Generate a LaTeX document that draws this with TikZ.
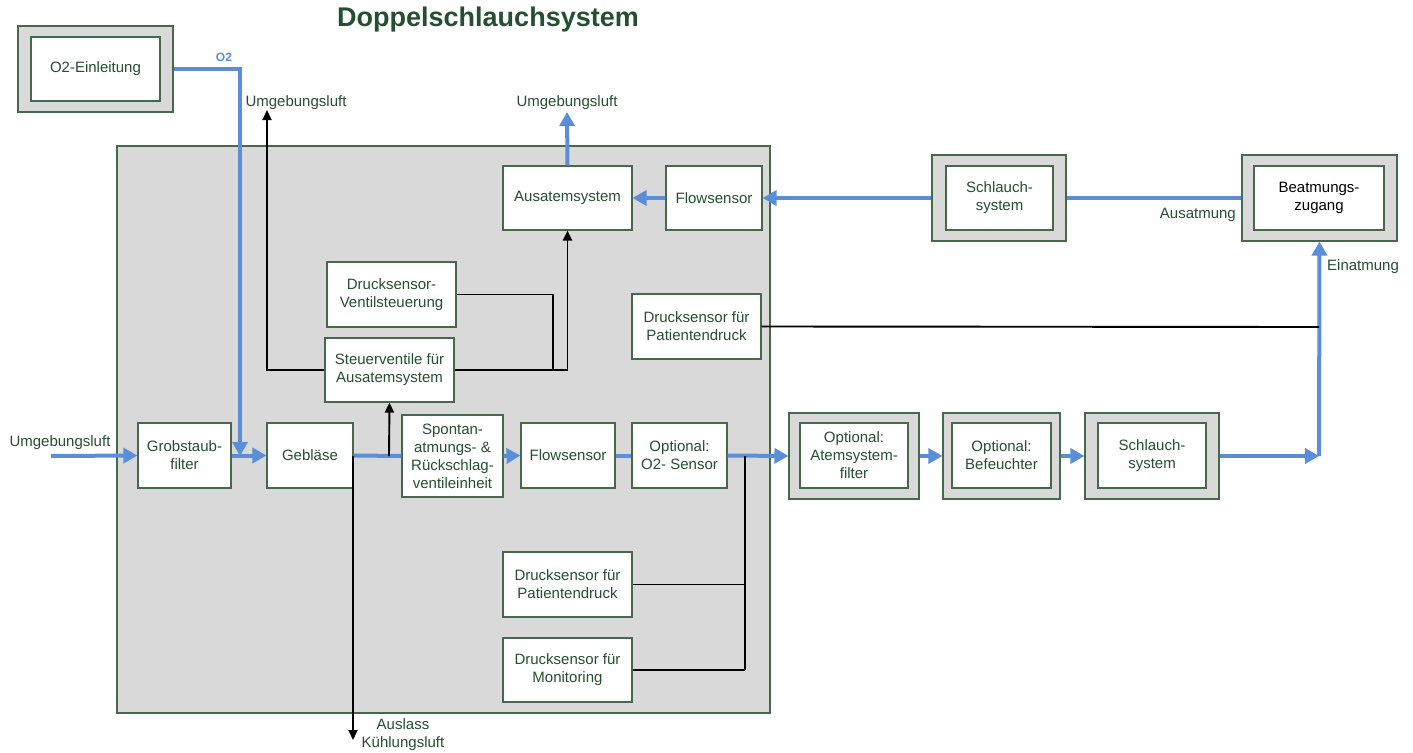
\documentclass[tikz,border=0pt]{standalone}
\usepackage{fontspec}
\setmainfont{Liberation Sans}
\usetikzlibrary{arrows.meta}
\definecolor{txtc}{HTML}{244F31}
\definecolor{boxc}{HTML}{46694D}
\definecolor{grayc}{HTML}{D9D9D9}
\definecolor{bluec}{HTML}{5A8ED8}
\tikzset{
  inbox/.style={draw=boxc, line width=1.1pt, fill=white, align=center, text=txtc, inner sep=0pt,
    font=\fontsize{15}{18}\selectfont},
  outbox/.style={draw=boxc, line width=1.1pt, fill=grayc, inner sep=0pt},
  lbl/.style={text=txtc, inner sep=0pt, font=\fontsize{15}{18}\selectfont},
  blueline/.style={draw=bluec, line width=4pt},
  bluearrow/.style={draw=bluec, line width=4pt, -{Triangle[length=14pt,width=15pt]}},
  blkline/.style={draw=black, line width=1.9pt},
  blkarrow/.style={draw=black, line width=1.9pt, -{Triangle[length=10pt,width=9pt]}},
}
\begin{document}
\begin{tikzpicture}[x=1pt,y=-1pt]
\useasboundingbox (0,0) rectangle (1413,752);
% title
\node[text=txtc, font=\fontsize{27}{30}\bfseries\selectfont, inner sep=0pt] (title) at (488,20) {Doppelschlauchsystem};
% main gray box
\node[outbox, minimum width=653pt, minimum height=567pt] (main) at (443.5,429.5) {};
% O2-Einleitung
\node[outbox, minimum width=155pt, minimum height=86pt] (o2out) at (95.5,69) {};
\node[inbox, minimum width=129pt, minimum height=64pt] (o2) at (95.5,69) {O2-Einleitung};
% top row
\node[inbox, minimum width=129pt, minimum height=64pt] (aus) at (567.5,198) {Ausatemsystem};
\node[inbox, minimum width=96pt, minimum height=64pt] (flowtop) at (714,198) {Flowsensor};
\node[outbox, minimum width=134pt, minimum height=86pt] (schl1out) at (999,198) {};
\node[inbox, minimum width=107pt, minimum height=64pt] (schl1) at (999.5,198) {Schlauch-\\system};
\node[outbox, minimum width=155pt, minimum height=86pt] (beatout) at (1319.5,198) {};
\node[inbox, minimum width=130pt, minimum height=64pt, text=black] (beat) at (1319,198) {Beatmungs-\\zugang};
% middle
\node[inbox, minimum width=129pt, minimum height=65pt] (dsv) at (391.5,294.5) {Drucksensor-\\Ventilsteuerung};
\node[inbox, minimum width=129pt, minimum height=64pt] (stv) at (389.5,370) {Steuerventile für\\Ausatemsystem};
\node[inbox, minimum width=129pt, minimum height=65pt] (dpr) at (696.5,326.5) {Drucksensor für\\Patientendruck};
% main row
\node[inbox, minimum width=93pt, minimum height=65pt] (grob) at (184.5,455.5) {Grobstaub-\\filter};
\node[inbox, minimum width=86pt, minimum height=65pt] (geb) at (310,455.5) {Gebläse};
\node[inbox, minimum width=101pt, minimum height=82pt] (spon) at (452.5,456) {Spontan-\\atmungs- \&\\Rückschlag-\\ventileinheit};
\node[inbox, minimum width=94pt, minimum height=65pt] (flow2) at (568,455.5) {Flowsensor};
\node[inbox, minimum width=95pt, minimum height=65pt] (o2s) at (679.5,455.5) {Optional:\\O2- Sensor};
\node[outbox, minimum width=130pt, minimum height=86pt] (atfout) at (854,456) {};
\node[inbox, minimum width=108pt, minimum height=65pt] (atf) at (854,455.5) {Optional:\\Atemsystem-\\filter};
\node[outbox, minimum width=117pt, minimum height=86pt] (befout) at (1001.5,456) {};
\node[inbox, minimum width=99pt, minimum height=65pt] (bef) at (1001.5,455.5) {Optional:\\Befeuchter};
\node[outbox, minimum width=134pt, minimum height=86pt] (schl2out) at (1152,456) {};
\node[inbox, minimum width=108pt, minimum height=65pt] (schl2) at (1152,455.5) {Schlauch-\\system};
% bottom sensors
\node[inbox, minimum width=129pt, minimum height=65pt] (dpat) at (567.5,584.5) {Drucksensor für\\Patientendruck};
\node[inbox, minimum width=129pt, minimum height=64pt] (dmon) at (567.5,670) {Drucksensor für\\Monitoring};
% labels
\node[lbl] (lumg1) at (60,443) {Umgebungsluft};
\node[lbl] (lumg2) at (296,103) {Umgebungsluft};
\node[lbl] (lumg3) at (567,103) {Umgebungsluft};
\node[lbl, align=center] (lausl) at (403,735) {Auslass\\Kühlungsluft};
\node[lbl, anchor=east] (lausat) at (1236,215) {Ausatmung};
\node[lbl, anchor=west] (lein) at (1327,267) {Einatmung};
\node[text=bluec, font=\fontsize{12}{14}\bfseries\selectfont, inner sep=0pt] (lo2) at (224,57) {O2};
% coordinates
\coordinate (inL) at (51,456);
\coordinate (o2end) at (240,456);
\coordinate (ein) at (1319,456);
\coordinate (ausup) at (567,112);
\coordinate (umgup) at (267,110);
\coordinate (blowsplit) at (389,456);
\coordinate (exhaust) at (353,740);
\coordinate (exstart) at (353,456);
\coordinate (dsvj) at (553,370);
\coordinate (sensbus) at (745,456);
\coordinate (sensbot) at (745,670);
\coordinate (dprj) at (1319,327);
% blue flows
\draw[bluearrow] (inL) -- (grob.west);
\draw[bluearrow] (grob.east) -- (geb.west);
\draw[bluearrow] (o2out.east) -| (o2end);
\draw[blueline] (geb.east) -- (spon.west);
\draw[bluearrow] (spon.east) -- (flow2.west);
\draw[blueline] (flow2.east) -- (o2s.west);
\draw[bluearrow] (o2s.east) -- (atfout.west);
\draw[bluearrow] (atfout.east) -- (befout.west);
\draw[bluearrow] (befout.east) -- (schl2out.west);
\draw[bluearrow] (schl2out.east) -- (ein);
\draw[bluearrow] (ein) -- (beatout.south);
\draw[blueline] (beatout.west) -- (schl1out.east);
\draw[bluearrow] (schl1out.west) -- (flowtop.east);
\draw[bluearrow] (flowtop.west) -- (aus.east);
\draw[bluearrow] (aus.north) -- (ausup);
% black connections
\draw[blkarrow] (stv.west) -| (umgup);
\draw[blkarrow] (stv.east) -| (aus.south);
\draw[blkline] (dsv.east) -| (dsvj);
\draw[blkarrow] (blowsplit) -- (stv.south);
\draw[blkarrow] (exstart) -- (exhaust);
\draw[blkline] (dpr.east) -- (dprj);
\draw[blkline] (sensbus) -- (sensbot);
\draw[blkline] (dpat.east) -- (dpat.east -| sensbus);
\draw[blkline] (dmon.east) -- (sensbot);
\end{tikzpicture}
\end{document}
